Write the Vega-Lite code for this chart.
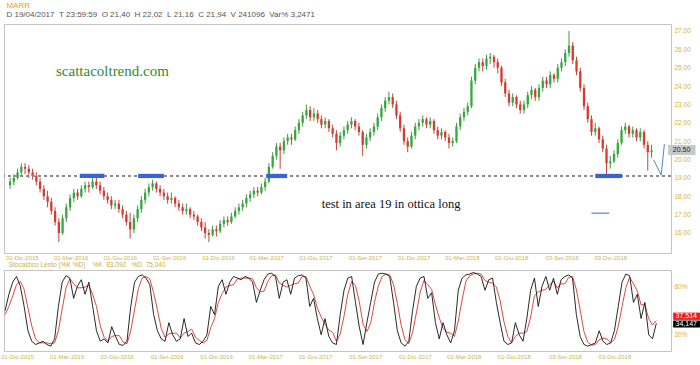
{
"$schema": "https://vega.github.io/schema/vega-lite/v6.json",
"background": "white",
"padding": {"left": 0, "top": 1, "right": 0, "bottom": 0},
"config": {"view": {"stroke": "#c4c4c4", "strokeWidth": 1}, "font": "Liberation Sans", "concat": {"spacing": 0}, "axis": {"labelOverlap": false}, "axisY": {"labelOverlap": false, "labelSeparation": 0}},
"datasets": {
"w": [
{"d":"2015-11-09","o":18.6,"h":19.0,"l":18.4,"c":18.8,"k":50,"s":45},
{"d":"2015-11-16","o":18.8,"h":19.2,"l":18.6,"c":19.0,"k":70,"s":55},
{"d":"2015-11-23","o":19.0,"h":19.5,"l":18.9,"c":19.3,"k":85,"s":68},
{"d":"2015-11-30","o":19.3,"h":19.8,"l":19.1,"c":19.6,"k":92,"s":82},
{"d":"2015-12-07","o":19.6,"h":19.8,"l":19.2,"c":19.5,"k":80,"s":86},
{"d":"2015-12-14","o":19.5,"h":19.7,"l":19.0,"c":19.3,"k":55,"s":76},
{"d":"2015-12-21","o":19.3,"h":19.5,"l":18.9,"c":19.1,"k":25,"s":53},
{"d":"2015-12-28","o":19.1,"h":19.3,"l":18.6,"c":18.8,"k":12,"s":31},
{"d":"2016-01-04","o":18.8,"h":19.0,"l":18.2,"c":18.4,"k":8,"s":15},
{"d":"2016-01-11","o":18.4,"h":18.6,"l":17.8,"c":18.0,"k":10,"s":10},
{"d":"2016-01-18","o":18.0,"h":18.3,"l":17.4,"c":17.7,"k":12,"s":10},
{"d":"2016-01-25","o":17.7,"h":17.9,"l":17.0,"c":17.2,"k":8,"s":10},
{"d":"2016-02-01","o":17.2,"h":17.4,"l":16.4,"c":16.6,"k":6,"s":9},
{"d":"2016-02-08","o":16.6,"h":16.8,"l":15.5,"c":16.0,"k":15,"s":10},
{"d":"2016-02-15","o":16.0,"h":17.0,"l":15.9,"c":16.8,"k":55,"s":25},
{"d":"2016-02-22","o":16.8,"h":17.6,"l":16.6,"c":17.4,"k":85,"s":52},
{"d":"2016-02-29","o":17.4,"h":18.1,"l":17.2,"c":17.9,"k":93,"s":78},
{"d":"2016-03-07","o":17.9,"h":18.4,"l":17.7,"c":18.2,"k":90,"s":89},
{"d":"2016-03-14","o":18.2,"h":18.4,"l":17.8,"c":18.0,"k":65,"s":83},
{"d":"2016-03-21","o":18.0,"h":18.6,"l":17.9,"c":18.4,"k":80,"s":78},
{"d":"2016-03-28","o":18.4,"h":18.8,"l":18.2,"c":18.6,"k":88,"s":78},
{"d":"2016-04-04","o":18.6,"h":18.8,"l":18.2,"c":18.5,"k":70,"s":79},
{"d":"2016-04-11","o":18.5,"h":19.1,"l":18.4,"c":18.8,"k":85,"s":81},
{"d":"2016-04-18","o":18.8,"h":19.0,"l":18.4,"c":18.6,"k":55,"s":70},
{"d":"2016-04-25","o":18.6,"h":18.8,"l":18.1,"c":18.3,"k":25,"s":55},
{"d":"2016-05-02","o":18.3,"h":18.5,"l":17.8,"c":18.0,"k":12,"s":31},
{"d":"2016-05-09","o":18.0,"h":18.2,"l":17.6,"c":17.8,"k":15,"s":17},
{"d":"2016-05-16","o":17.8,"h":18.0,"l":17.3,"c":17.5,"k":10,"s":12},
{"d":"2016-05-23","o":17.5,"h":17.8,"l":17.3,"c":17.6,"k":30,"s":18},
{"d":"2016-05-30","o":17.6,"h":17.8,"l":17.1,"c":17.3,"k":18,"s":19},
{"d":"2016-06-06","o":17.3,"h":17.5,"l":16.8,"c":17.0,"k":8,"s":19},
{"d":"2016-06-13","o":17.0,"h":17.2,"l":16.4,"c":16.6,"k":7,"s":11},
{"d":"2016-06-20","o":16.6,"h":17.1,"l":15.7,"c":16.2,"k":12,"s":9},
{"d":"2016-06-27","o":16.2,"h":17.0,"l":16.0,"c":16.8,"k":55,"s":25},
{"d":"2016-07-04","o":16.8,"h":17.5,"l":16.6,"c":17.3,"k":85,"s":51},
{"d":"2016-07-11","o":17.3,"h":18.0,"l":17.1,"c":17.8,"k":92,"s":77},
{"d":"2016-07-18","o":17.8,"h":18.4,"l":17.6,"c":18.2,"k":94,"s":90},
{"d":"2016-07-25","o":18.2,"h":18.7,"l":18.0,"c":18.5,"k":90,"s":92},
{"d":"2016-08-01","o":18.5,"h":18.9,"l":18.3,"c":18.7,"k":82,"s":89},
{"d":"2016-08-08","o":18.7,"h":18.8,"l":18.2,"c":18.4,"k":45,"s":72},
{"d":"2016-08-15","o":18.4,"h":18.6,"l":18.0,"c":18.2,"k":25,"s":51},
{"d":"2016-08-22","o":18.2,"h":18.4,"l":17.8,"c":18.0,"k":15,"s":28},
{"d":"2016-08-29","o":18.0,"h":18.2,"l":17.6,"c":17.8,"k":12,"s":17},
{"d":"2016-09-05","o":17.8,"h":18.2,"l":17.6,"c":17.9,"k":35,"s":21},
{"d":"2016-09-12","o":17.9,"h":18.0,"l":17.4,"c":17.6,"k":20,"s":22},
{"d":"2016-09-19","o":17.6,"h":17.8,"l":17.2,"c":17.4,"k":12,"s":22},
{"d":"2016-09-26","o":17.4,"h":17.6,"l":17.0,"c":17.2,"k":15,"s":16},
{"d":"2016-10-03","o":17.2,"h":17.6,"l":17.0,"c":17.3,"k":40,"s":22},
{"d":"2016-10-10","o":17.3,"h":17.4,"l":16.8,"c":17.0,"k":18,"s":24},
{"d":"2016-10-17","o":17.0,"h":17.2,"l":16.7,"c":16.9,"k":22,"s":27},
{"d":"2016-10-24","o":16.9,"h":17.0,"l":16.4,"c":16.6,"k":10,"s":17},
{"d":"2016-10-31","o":16.6,"h":16.8,"l":16.1,"c":16.3,"k":8,"s":13},
{"d":"2016-11-07","o":16.3,"h":16.6,"l":15.7,"c":16.0,"k":12,"s":10},
{"d":"2016-11-14","o":16.0,"h":16.2,"l":15.5,"c":15.9,"k":20,"s":13},
{"d":"2016-11-21","o":15.9,"h":16.4,"l":15.8,"c":16.2,"k":55,"s":29},
{"d":"2016-11-28","o":16.2,"h":16.4,"l":15.8,"c":16.1,"k":45,"s":40},
{"d":"2016-12-05","o":16.1,"h":16.7,"l":16.0,"c":16.5,"k":80,"s":60},
{"d":"2016-12-12","o":16.5,"h":16.9,"l":16.3,"c":16.7,"k":88,"s":71},
{"d":"2016-12-19","o":16.7,"h":16.9,"l":16.4,"c":16.6,"k":70,"s":79},
{"d":"2016-12-26","o":16.6,"h":17.1,"l":16.5,"c":16.9,"k":85,"s":81},
{"d":"2017-01-02","o":16.9,"h":17.4,"l":16.8,"c":17.2,"k":92,"s":82},
{"d":"2017-01-09","o":17.2,"h":17.6,"l":17.0,"c":17.4,"k":90,"s":89},
{"d":"2017-01-16","o":17.4,"h":17.8,"l":17.2,"c":17.6,"k":88,"s":90},
{"d":"2017-01-23","o":17.6,"h":18.1,"l":17.4,"c":17.9,"k":92,"s":90},
{"d":"2017-01-30","o":17.9,"h":18.3,"l":17.7,"c":18.1,"k":90,"s":90},
{"d":"2017-02-06","o":18.1,"h":18.5,"l":17.9,"c":18.3,"k":85,"s":89},
{"d":"2017-02-13","o":18.3,"h":18.5,"l":18.0,"c":18.2,"k":60,"s":78},
{"d":"2017-02-20","o":18.2,"h":18.7,"l":18.1,"c":18.5,"k":75,"s":73},
{"d":"2017-02-27","o":18.5,"h":19.0,"l":18.3,"c":18.8,"k":88,"s":74},
{"d":"2017-03-06","o":18.8,"h":19.8,"l":18.7,"c":19.6,"k":95,"s":86},
{"d":"2017-03-13","o":19.6,"h":20.4,"l":19.5,"c":20.2,"k":96,"s":93},
{"d":"2017-03-20","o":20.2,"h":20.9,"l":20.0,"c":20.7,"k":92,"s":94},
{"d":"2017-03-27","o":20.7,"h":20.9,"l":19.5,"c":20.5,"k":65,"s":84},
{"d":"2017-04-03","o":20.5,"h":21.2,"l":20.3,"c":21.0,"k":85,"s":81},
{"d":"2017-04-10","o":21.0,"h":21.4,"l":20.8,"c":21.2,"k":88,"s":79},
{"d":"2017-04-17","o":21.2,"h":21.4,"l":20.8,"c":21.1,"k":70,"s":81},
{"d":"2017-04-24","o":21.1,"h":21.8,"l":21.0,"c":21.6,"k":90,"s":83},
{"d":"2017-05-01","o":21.6,"h":22.2,"l":21.4,"c":22.0,"k":93,"s":84},
{"d":"2017-05-08","o":22.0,"h":22.6,"l":21.8,"c":22.4,"k":94,"s":92},
{"d":"2017-05-15","o":22.4,"h":23.0,"l":22.2,"c":22.7,"k":90,"s":92},
{"d":"2017-05-22","o":22.7,"h":22.9,"l":22.1,"c":22.3,"k":55,"s":80},
{"d":"2017-05-29","o":22.3,"h":22.8,"l":22.1,"c":22.5,"k":65,"s":70},
{"d":"2017-06-05","o":22.5,"h":22.7,"l":22.0,"c":22.2,"k":40,"s":53},
{"d":"2017-06-12","o":22.2,"h":22.4,"l":21.7,"c":21.9,"k":20,"s":42},
{"d":"2017-06-19","o":21.9,"h":22.3,"l":21.7,"c":22.1,"k":40,"s":33},
{"d":"2017-06-26","o":22.1,"h":22.2,"l":21.5,"c":21.7,"k":18,"s":26},
{"d":"2017-07-03","o":21.7,"h":21.9,"l":21.2,"c":21.4,"k":10,"s":23},
{"d":"2017-07-10","o":21.4,"h":21.6,"l":20.5,"c":20.9,"k":8,"s":12},
{"d":"2017-07-17","o":20.9,"h":21.5,"l":20.7,"c":21.3,"k":45,"s":21},
{"d":"2017-07-24","o":21.3,"h":21.8,"l":21.1,"c":21.6,"k":75,"s":43},
{"d":"2017-07-31","o":21.6,"h":22.1,"l":21.4,"c":21.9,"k":90,"s":70},
{"d":"2017-08-07","o":21.9,"h":22.3,"l":21.7,"c":22.1,"k":92,"s":86},
{"d":"2017-08-14","o":22.1,"h":22.2,"l":21.6,"c":21.8,"k":60,"s":81},
{"d":"2017-08-21","o":21.8,"h":22.0,"l":21.3,"c":21.5,"k":30,"s":61},
{"d":"2017-08-28","o":21.5,"h":21.6,"l":20.2,"c":20.8,"k":8,"s":33},
{"d":"2017-09-04","o":20.8,"h":21.4,"l":20.6,"c":21.2,"k":35,"s":24},
{"d":"2017-09-11","o":21.2,"h":21.7,"l":21.0,"c":21.5,"k":60,"s":34},
{"d":"2017-09-18","o":21.5,"h":22.0,"l":21.3,"c":21.8,"k":85,"s":60},
{"d":"2017-09-25","o":21.8,"h":22.5,"l":21.6,"c":22.3,"k":95,"s":80},
{"d":"2017-10-02","o":22.3,"h":23.0,"l":22.1,"c":22.8,"k":96,"s":92},
{"d":"2017-10-09","o":22.8,"h":23.4,"l":22.6,"c":23.2,"k":95,"s":95},
{"d":"2017-10-16","o":23.2,"h":23.7,"l":23.0,"c":23.4,"k":92,"s":94},
{"d":"2017-10-23","o":23.4,"h":23.6,"l":22.8,"c":23.0,"k":60,"s":82},
{"d":"2017-10-30","o":23.0,"h":23.2,"l":22.2,"c":22.4,"k":25,"s":59},
{"d":"2017-11-06","o":22.4,"h":22.6,"l":21.5,"c":21.7,"k":10,"s":32},
{"d":"2017-11-13","o":21.7,"h":21.9,"l":20.8,"c":21.0,"k":6,"s":14},
{"d":"2017-11-20","o":21.0,"h":21.2,"l":20.4,"c":20.7,"k":12,"s":9},
{"d":"2017-11-27","o":20.7,"h":21.5,"l":20.6,"c":21.3,"k":50,"s":23},
{"d":"2017-12-04","o":21.3,"h":22.0,"l":21.1,"c":21.8,"k":80,"s":47},
{"d":"2017-12-11","o":21.8,"h":22.2,"l":21.6,"c":22.0,"k":90,"s":73},
{"d":"2017-12-18","o":22.0,"h":22.4,"l":21.8,"c":22.2,"k":92,"s":87},
{"d":"2017-12-25","o":22.2,"h":22.3,"l":21.7,"c":21.9,"k":65,"s":82},
{"d":"2018-01-01","o":21.9,"h":22.3,"l":21.7,"c":22.1,"k":72,"s":76},
{"d":"2018-01-08","o":22.1,"h":22.2,"l":21.4,"c":21.6,"k":35,"s":57},
{"d":"2018-01-15","o":21.6,"h":21.8,"l":21.1,"c":21.3,"k":15,"s":41},
{"d":"2018-01-22","o":21.3,"h":21.7,"l":21.1,"c":21.5,"k":35,"s":28},
{"d":"2018-01-29","o":21.5,"h":21.6,"l":21.0,"c":21.2,"k":20,"s":23},
{"d":"2018-02-05","o":21.2,"h":21.4,"l":20.6,"c":20.9,"k":10,"s":22},
{"d":"2018-02-12","o":20.9,"h":21.2,"l":20.7,"c":21.0,"k":25,"s":18},
{"d":"2018-02-19","o":21.0,"h":22.0,"l":20.9,"c":21.8,"k":75,"s":37},
{"d":"2018-02-26","o":21.8,"h":22.5,"l":21.6,"c":22.3,"k":90,"s":63},
{"d":"2018-03-05","o":22.3,"h":22.8,"l":22.1,"c":22.6,"k":94,"s":86},
{"d":"2018-03-12","o":22.6,"h":23.1,"l":22.4,"c":22.9,"k":95,"s":93},
{"d":"2018-03-19","o":22.9,"h":24.5,"l":22.8,"c":24.3,"k":97,"s":95},
{"d":"2018-03-26","o":24.3,"h":25.2,"l":24.1,"c":25.0,"k":95,"s":96},
{"d":"2018-04-02","o":25.0,"h":25.5,"l":24.8,"c":25.3,"k":92,"s":95},
{"d":"2018-04-09","o":25.3,"h":25.5,"l":24.8,"c":25.1,"k":75,"s":87},
{"d":"2018-04-16","o":25.1,"h":25.7,"l":24.9,"c":25.5,"k":88,"s":85},
{"d":"2018-04-23","o":25.5,"h":25.8,"l":25.2,"c":25.6,"k":90,"s":84},
{"d":"2018-04-30","o":25.6,"h":25.7,"l":25.0,"c":25.3,"k":60,"s":79},
{"d":"2018-05-07","o":25.3,"h":25.5,"l":24.7,"c":25.0,"k":35,"s":62},
{"d":"2018-05-14","o":25.0,"h":25.1,"l":24.0,"c":24.2,"k":12,"s":36},
{"d":"2018-05-21","o":24.2,"h":24.4,"l":23.4,"c":23.6,"k":8,"s":18},
{"d":"2018-05-28","o":23.6,"h":23.8,"l":22.9,"c":23.1,"k":10,"s":10},
{"d":"2018-06-04","o":23.1,"h":23.6,"l":22.9,"c":23.4,"k":35,"s":18},
{"d":"2018-06-11","o":23.4,"h":23.5,"l":22.8,"c":23.0,"k":20,"s":22},
{"d":"2018-06-18","o":23.0,"h":23.2,"l":22.5,"c":22.7,"k":12,"s":22},
{"d":"2018-06-25","o":22.7,"h":23.2,"l":22.5,"c":23.0,"k":40,"s":24},
{"d":"2018-07-02","o":23.0,"h":23.7,"l":22.8,"c":23.5,"k":75,"s":42},
{"d":"2018-07-09","o":23.5,"h":24.0,"l":23.3,"c":23.8,"k":90,"s":68},
{"d":"2018-07-16","o":23.8,"h":23.9,"l":23.2,"c":23.4,"k":55,"s":73},
{"d":"2018-07-23","o":23.4,"h":24.1,"l":23.2,"c":23.9,"k":80,"s":75},
{"d":"2018-07-30","o":23.9,"h":24.5,"l":23.7,"c":24.3,"k":92,"s":76},
{"d":"2018-08-06","o":24.3,"h":24.5,"l":23.9,"c":24.1,"k":75,"s":82},
{"d":"2018-08-13","o":24.1,"h":24.8,"l":23.9,"c":24.6,"k":90,"s":86},
{"d":"2018-08-20","o":24.6,"h":24.7,"l":24.2,"c":24.4,"k":70,"s":78},
{"d":"2018-08-27","o":24.4,"h":25.2,"l":24.2,"c":25.0,"k":88,"s":83},
{"d":"2018-09-03","o":25.0,"h":25.5,"l":24.8,"c":25.3,"k":92,"s":83},
{"d":"2018-09-10","o":25.3,"h":26.0,"l":25.1,"c":25.8,"k":94,"s":91},
{"d":"2018-09-17","o":25.8,"h":27.0,"l":25.6,"c":26.2,"k":90,"s":92},
{"d":"2018-09-24","o":26.2,"h":26.4,"l":25.2,"c":25.4,"k":45,"s":76},
{"d":"2018-10-01","o":25.4,"h":25.6,"l":24.6,"c":24.8,"k":18,"s":51},
{"d":"2018-10-08","o":24.8,"h":25.0,"l":23.7,"c":23.9,"k":8,"s":24},
{"d":"2018-10-15","o":23.9,"h":24.1,"l":22.7,"c":22.9,"k":6,"s":11},
{"d":"2018-10-22","o":22.9,"h":23.1,"l":22.0,"c":22.2,"k":8,"s":7},
{"d":"2018-10-29","o":22.2,"h":22.4,"l":21.3,"c":21.5,"k":10,"s":8},
{"d":"2018-11-05","o":21.5,"h":22.0,"l":21.3,"c":21.7,"k":25,"s":14},
{"d":"2018-11-12","o":21.7,"h":21.8,"l":20.9,"c":21.1,"k":12,"s":16},
{"d":"2018-11-19","o":21.1,"h":21.3,"l":20.4,"c":20.6,"k":8,"s":15},
{"d":"2018-11-26","o":20.6,"h":20.8,"l":19.2,"c":19.8,"k":10,"s":10},
{"d":"2018-12-03","o":19.8,"h":20.2,"l":19.5,"c":19.9,"k":25,"s":14},
{"d":"2018-12-10","o":19.9,"h":20.5,"l":19.8,"c":20.3,"k":55,"s":30},
{"d":"2018-12-17","o":20.3,"h":21.1,"l":20.1,"c":20.9,"k":85,"s":55},
{"d":"2018-12-24","o":20.9,"h":21.8,"l":20.8,"c":21.6,"k":95,"s":78},
{"d":"2018-12-31","o":21.6,"h":22.0,"l":21.4,"c":21.8,"k":93,"s":91},
{"d":"2019-01-07","o":21.8,"h":21.9,"l":21.2,"c":21.4,"k":60,"s":83},
{"d":"2019-01-14","o":21.4,"h":21.8,"l":21.2,"c":21.6,"k":70,"s":74},
{"d":"2019-01-21","o":21.6,"h":21.7,"l":21.0,"c":21.2,"k":40,"s":57},
{"d":"2019-01-28","o":21.2,"h":21.7,"l":21.0,"c":21.5,"k":60,"s":57},
{"d":"2019-02-04","o":21.5,"h":21.6,"l":20.6,"c":20.8,"k":20,"s":40},
{"d":"2019-02-11","o":20.8,"h":21.0,"l":19.4,"c":20.4,"k":15,"s":32},
{"d":"2019-02-18","o":20.4,"h":20.8,"l":20.1,"c":20.5,"k":34.147,"s":37.514}
],
"zones": [
{"a":"2016-03-18","b":"2016-05-03","lo":18.99,"hi":19.22},
{"a":"2016-07-05","b":"2016-08-22","lo":18.99,"hi":19.22},
{"a":"2017-03-01","b":"2017-04-09","lo":18.99,"hi":19.22},
{"a":"2018-11-05","b":"2018-12-25","lo":18.99,"hi":19.22}
],
"notes": [
{"d":"2016-05-18","p":24.82,"t":"scattacoltrend.com","g":"w"},
{"d":"2017-10-20","p":17.57,"t":"test in area 19 in ottica long","g":"t"}
],
"sketch": [
{"d":"2019-02-22","p":19.97},
{"d":"2019-03-08","p":19.15},
{"d":"2019-03-14","p":20.84}
],
"seg": [
{"a":"2018-10-29","b":"2018-12-01","p":17.08}
],
"last": [
{"a":"2019-03-21","b":"2019-05-11","lo":20.24,"hi":20.79,"m":"2019-04-15","v":20.5,"t":"20.50"}
],
"stlast": [
{"a":"2019-03-21","b":"2019-05-11","lo":38.4,"hi":47.4,"m":"2019-04-14","v":42.9,"t":"37,514","g":"D"},
{"a":"2019-03-21","b":"2019-05-11","lo":29.0,"hi":37.6,"m":"2019-04-14","v":33.3,"t":"34,147","g":"K"}
]
},
"vconcat": [
{
"width": 667, "height": 229,
"title": {"text": "MARR", "subtitle": "D\u00a019/04/2017\u00a0\u00a0T\u00a023:59:59\u00a0\u00a0O\u00a021,40\u00a0\u00a0H\u00a022,02\u00a0\u00a0L\u00a021,16\u00a0\u00a0C\u00a021,94\u00a0\u00a0V\u00a0241096\u00a0\u00a0Var%\u00a03,2471", "anchor": "start", "fontSize": 8, "fontWeight": "normal", "color": "#e2a020", "subtitleFontSize": 8, "subtitleColor": "#555555", "subtitlePadding": 1, "offset": 5, "dx": 3, "font": "Liberation Sans", "subtitleFont": "Liberation Sans"},
"layer": [
{"data": {"name": "w"}, "mark": {"type": "rule", "strokeWidth": 0.9},
 "encoding": {
  "x": {"field": "d", "type": "temporal", "title": null,
        "scale": {"domain": [{"year": 2015, "month": 11, "date": 7}, {"year": 2019, "month": 3, "date": 17}]},
        "axis": {"values": [{"year":2015,"month":12,"date":1},{"year":2016,"month":3,"date":1},{"year":2016,"month":6,"date":1},{"year":2016,"month":9,"date":1},{"year":2016,"month":12,"date":1},{"year":2017,"month":3,"date":1},{"year":2017,"month":6,"date":1},{"year":2017,"month":9,"date":1},{"year":2017,"month":12,"date":1},{"year":2018,"month":3,"date":1},{"year":2018,"month":6,"date":1},{"year":2018,"month":9,"date":3},{"year":2018,"month":12,"date":3}],
                 "labelExpr": "timeFormat(datum.value, '%d') + '-' + ['Gen','Feb','Mar','Apr','Mag','Giu','Lug','Ago','Set','Ott','Nov','Dic'][month(datum.value)] + '-' + timeFormat(datum.value, '%Y')",
                 "ticks": false, "domain": false, "grid": false, "labelColor": "#cdb550", "labelFontSize": 6, "labelPadding": 1, "labelOverlap": false, "labelBound": false, "labelFlush": false}},
  "y": {"field": "l", "type": "quantitative", "title": null,
        "scale": {"domain": [14.91, 27.38], "nice": false, "zero": false},
        "axis": {"orient": "right", "values": [16,17,18,19,20,21,22,23,24,25,26,27], "tickCount": 12, "format": ".2f", "ticks": false, "domain": false, "grid": false, "labelColor": "#d8b040", "labelFontSize": 6.5, "labelPadding": 3, "labelOverlap": false, "zindex": 1}},
  "y2": {"field": "h"},
  "color": {"condition": {"test": "datum.c >= datum.o", "value": "#2b8a30"}, "value": "#b8302a"}
 }},
{"data": {"name": "w"}, "mark": {"type": "bar", "size": 2.3},
 "encoding": {
  "x": {"field": "d", "type": "temporal"},
  "y": {"field": "o", "type": "quantitative", "axis": {"orient": "right", "values": [16,17,18,19,20,21,22,23,24,25,26,27], "tickCount": 12, "format": ".2f", "ticks": false, "domain": false, "grid": false, "labelColor": "#d8b040", "labelFontSize": 6.5, "labelPadding": 3, "labelOverlap": false, "zindex": 1}},
  "y2": {"field": "c"},
  "color": {"condition": {"test": "datum.c >= datum.o", "value": "#34a83a"}, "value": "#d83a2e"}
 }},
{"data": {"name": "w"}, "mark": {"type": "rule", "color": "#8a8a8a", "strokeDash": [3, 3], "strokeWidth": 1.1},
 "encoding": {"y": {"datum": 19.12, "type": "quantitative", "axis": {"orient": "right", "values": [16,17,18,19,20,21,22,23,24,25,26,27], "tickCount": 12, "format": ".2f", "ticks": false, "domain": false, "grid": false, "labelColor": "#d8b040", "labelFontSize": 6.5, "labelPadding": 3, "labelOverlap": false, "zindex": 1}}}},
{"data": {"name": "zones"}, "mark": {"type": "rect", "color": "#3a62d8"},
 "encoding": {"x": {"field": "a", "type": "temporal"}, "x2": {"field": "b"}, "y": {"field": "lo", "type": "quantitative", "axis": {"orient": "right", "values": [16,17,18,19,20,21,22,23,24,25,26,27], "tickCount": 12, "format": ".2f", "ticks": false, "domain": false, "grid": false, "labelColor": "#d8b040", "labelFontSize": 6.5, "labelPadding": 3, "labelOverlap": false, "zindex": 1}}, "y2": {"field": "hi"}}},
{"data": {"name": "seg"}, "mark": {"type": "rule", "color": "#3a62d8", "strokeWidth": 1},
 "encoding": {"x": {"field": "a", "type": "temporal"}, "x2": {"field": "b"}, "y": {"field": "p", "type": "quantitative", "axis": {"orient": "right", "values": [16,17,18,19,20,21,22,23,24,25,26,27], "tickCount": 12, "format": ".2f", "ticks": false, "domain": false, "grid": false, "labelColor": "#d8b040", "labelFontSize": 6.5, "labelPadding": 3, "labelOverlap": false, "zindex": 1}}}},
{"data": {"name": "sketch"}, "mark": {"type": "line", "color": "#5a7fd0", "strokeWidth": 1},
 "encoding": {"x": {"field": "d", "type": "temporal"}, "y": {"field": "p", "type": "quantitative", "axis": {"orient": "right", "values": [16,17,18,19,20,21,22,23,24,25,26,27], "tickCount": 12, "format": ".2f", "ticks": false, "domain": false, "grid": false, "labelColor": "#d8b040", "labelFontSize": 6.5, "labelPadding": 3, "labelOverlap": false, "zindex": 1}}}},
{"data": {"name": "notes"}, "transform": [{"filter": "datum.g == 'w'"}], "mark": {"type": "text", "font": "Liberation Serif", "fontSize": 15, "color": "#2e8a35", "align": "center", "baseline": "middle"},
 "encoding": {"x": {"field": "d", "type": "temporal"}, "y": {"field": "p", "type": "quantitative", "axis": {"orient": "right", "values": [16,17,18,19,20,21,22,23,24,25,26,27], "tickCount": 12, "format": ".2f", "ticks": false, "domain": false, "grid": false, "labelColor": "#d8b040", "labelFontSize": 6.5, "labelPadding": 3, "labelOverlap": false, "zindex": 1}}, "text": {"field": "t"}}},
{"data": {"name": "notes"}, "transform": [{"filter": "datum.g == 't'"}], "mark": {"type": "text", "font": "Liberation Serif", "fontSize": 12.5, "color": "#111111", "align": "center", "baseline": "middle"},
 "encoding": {"x": {"field": "d", "type": "temporal"}, "y": {"field": "p", "type": "quantitative", "axis": {"orient": "right", "values": [16,17,18,19,20,21,22,23,24,25,26,27], "tickCount": 12, "format": ".2f", "ticks": false, "domain": false, "grid": false, "labelColor": "#d8b040", "labelFontSize": 6.5, "labelPadding": 3, "labelOverlap": false, "zindex": 1}}, "text": {"field": "t"}}},
{"data": {"name": "last"}, "mark": {"type": "rect", "color": "#c8c8c8"},
 "encoding": {"x": {"field": "a", "type": "temporal"}, "x2": {"field": "b"}, "y": {"field": "lo", "type": "quantitative", "axis": {"orient": "right", "values": [16,17,18,19,20,21,22,23,24,25,26,27], "tickCount": 12, "format": ".2f", "ticks": false, "domain": false, "grid": false, "labelColor": "#d8b040", "labelFontSize": 6.5, "labelPadding": 3, "labelOverlap": false, "zindex": 1}}, "y2": {"field": "hi"}}},
{"data": {"name": "last"}, "mark": {"type": "text", "fontSize": 7, "color": "#222222", "align": "center", "baseline": "middle"},
 "encoding": {"x": {"field": "m", "type": "temporal"}, "y": {"field": "v", "type": "quantitative", "axis": {"orient": "right", "values": [16,17,18,19,20,21,22,23,24,25,26,27], "tickCount": 12, "format": ".2f", "ticks": false, "domain": false, "grid": false, "labelColor": "#d8b040", "labelFontSize": 6.5, "labelPadding": 3, "labelOverlap": false, "zindex": 1}}, "text": {"field": "t"}}}
]
},
{
"width": 667, "height": 81,
"title": {"text": "Stocastico Lento (%K %D)\u00a0\u00a0\u00a0\u00a0%K\u00a0\u00a083,092\u00a0\u00a0\u00a0%D\u00a0\u00a075,040", "anchor": "start", "fontSize": 6.5, "fontWeight": "normal", "color": "#c9b040", "offset": 2, "dx": 8, "font": "Liberation Sans"},
"layer": [
{"data": {"name": "w"}, "mark": {"type": "line", "color": "#d8342c", "strokeWidth": 0.9},
 "encoding": {
  "x": {"field": "d", "type": "temporal", "title": null,
        "scale": {"domain": [{"year": 2015, "month": 11, "date": 7}, {"year": 2019, "month": 3, "date": 17}]},
        "axis": {"values": [{"year":2015,"month":12,"date":1},{"year":2016,"month":3,"date":1},{"year":2016,"month":6,"date":1},{"year":2016,"month":9,"date":1},{"year":2016,"month":12,"date":1},{"year":2017,"month":3,"date":1},{"year":2017,"month":6,"date":1},{"year":2017,"month":9,"date":1},{"year":2017,"month":12,"date":1},{"year":2018,"month":3,"date":1},{"year":2018,"month":6,"date":1},{"year":2018,"month":9,"date":3},{"year":2018,"month":12,"date":3}],
                 "labelExpr": "timeFormat(datum.value, '%d') + '-' + ['Gen','Feb','Mar','Apr','Mag','Giu','Lug','Ago','Set','Ott','Nov','Dic'][month(datum.value)] + '-' + timeFormat(datum.value, '%Y')",
                 "ticks": false, "domain": false, "grid": false, "labelColor": "#cdb550", "labelFontSize": 6, "labelPadding": 2, "labelOverlap": false, "labelBound": false, "labelFlush": false}},
  "y": {"field": "s", "type": "quantitative", "title": null,
        "scale": {"domain": [0, 100], "nice": false},
        "axis": {"orient": "right", "values": [20, 80], "labelExpr": "datum.value + '%'", "ticks": false, "domain": false, "grid": false, "labelColor": "#d8b040", "labelFontSize": 6.5, "labelPadding": 3, "labelOverlap": false, "zindex": 1}}
 }},
{"data": {"name": "w"}, "mark": {"type": "line", "color": "#111111", "strokeWidth": 0.9},
 "encoding": {"x": {"field": "d", "type": "temporal"}, "y": {"field": "k", "type": "quantitative"}}},
{"data": {"name": "stlast"}, "mark": {"type": "rect"},
 "encoding": {"x": {"field": "a", "type": "temporal"}, "x2": {"field": "b"}, "y": {"field": "lo", "type": "quantitative"}, "y2": {"field": "hi"},
  "color": {"field": "g", "type": "nominal", "scale": {"domain": ["D", "K"], "range": ["#ee1c1c", "#000000"]}, "legend": null}}},
{"data": {"name": "stlast"}, "mark": {"type": "text", "fontSize": 7, "color": "white", "align": "center", "baseline": "middle"},
 "encoding": {"x": {"field": "m", "type": "temporal"}, "y": {"field": "v", "type": "quantitative"}, "text": {"field": "t"}}}
]
}
]
}
